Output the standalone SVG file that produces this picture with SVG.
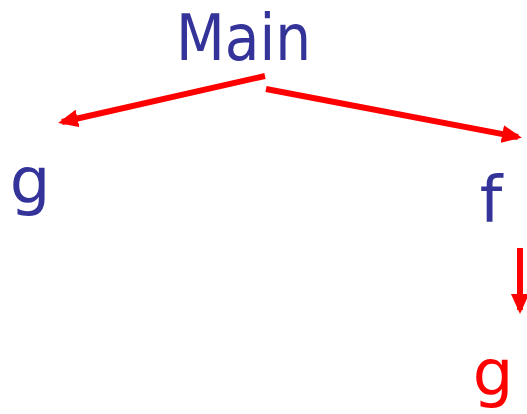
<svg xmlns="http://www.w3.org/2000/svg" width="527" height="414" viewBox="0 0 527 414">
<style>
.lbl{font-family:"DejaVu Sans","Liberation Sans",sans-serif;font-size:64px;}
.blue{fill:#333399;}
.red{fill:#ff0000;}
.arr{stroke:#ff0000;stroke-width:6;fill:none;marker-end:url(#ah);}
</style>
<defs>
<marker id="ah" markerWidth="20" markerHeight="18" refX="16" refY="9" orient="auto" markerUnits="userSpaceOnUse" viewBox="0 0 20 18">
<path d="M0,0 L20,9 L0,18 Z" fill="#ff0000"/>
</marker>
</defs>
<rect width="527" height="414" fill="#ffffff"/>
<g id="connectors">
<line class="arr" x1="265" y1="76" x2="62" y2="122"/>
<line class="arr" x1="266" y1="89" x2="518" y2="137"/>
<line class="arr" x1="520" y1="248" x2="520" y2="310"/>
</g>
<g id="main"><text class="lbl blue" x="176" y="60" textLength="135" lengthAdjust="spacingAndGlyphs">Main</text></g>
<g id="g1"><text class="lbl blue" x="30" y="203" text-anchor="middle">g</text></g>
<g id="f"><text class="lbl blue" x="491" y="222" text-anchor="middle">f</text></g>
<g id="g2"><text class="lbl red" x="493" y="395" text-anchor="middle">g</text></g>
</svg>
